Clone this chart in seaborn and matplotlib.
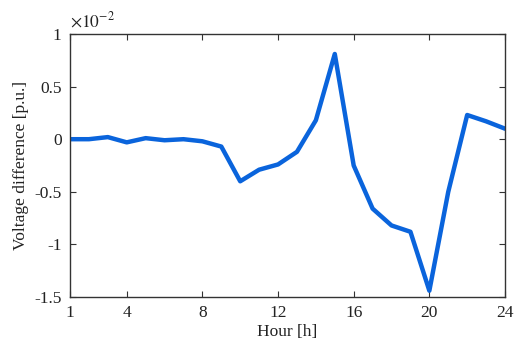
import matplotlib
matplotlib.use("Agg")
import matplotlib.pyplot as plt
import seaborn as sns
import pandas as pd

hours = list(range(1, 25))
# voltage difference in units of 1e-2 p.u.
vdiff = [0.0, 0.0, 0.02, -0.03, 0.01, -0.01, 0.0, -0.02, -0.07, -0.40,
         -0.29, -0.24, -0.12, 0.18, 0.81, -0.25, -0.66, -0.82, -0.88, -1.44,
         -0.50, 0.23, 0.17, 0.10]
xticks = [1, 4, 8, 12, 16, 20, 24]
yticks = [-1.5, -1, -0.5, 0, 0.5, 1]
ytick_labels = ["-1.5", "-1", "-0.5", "0", "0.5", "1"]

sns.set_style("ticks")
plt.rcParams["font.family"] = ["Liberation Serif", "DejaVu Serif"]
plt.rcParams["axes.unicode_minus"] = False
plt.rcParams["mathtext.fontset"] = "stix"

fig = plt.figure(figsize=(5.16, 3.47), dpi=100)
ax = fig.add_axes([70/516, 1-297/347, 435/516, 263/347])

df = pd.DataFrame({"Hour": hours, "V": vdiff})
sns.lineplot(data=df, x="Hour", y="V", ax=ax, color="#0a64dc", linewidth=3.2)

ax.set_xlim(1, 24)
ax.set_ylim(-1.5, 1)
ax.set_xticks(xticks)
ax.set_xticklabels([str(t) for t in xticks])
ax.set_yticks(yticks)
ax.set_yticklabels(ytick_labels)
ax.tick_params(direction="in", length=4, width=0.8, colors="#333333",
               labelcolor="#222222", labelsize=12.5, top=True, right=True, pad=6)
for s in ax.spines.values():
    s.set_visible(True)
    s.set_color("#333333")
    s.set_linewidth(1.0)
ax.set_xlabel("Hour [h]", fontsize=12.5, color="#222222", labelpad=2)
ax.set_ylabel("Voltage difference [p.u.]", fontsize=12.5, color="#222222", labelpad=4)
ax.text(0.0, 1.012, r"$\times10^{-2}$", transform=ax.transAxes, fontsize=12.5,
        color="#222222", ha="left", va="bottom")

fig.savefig("out.png", dpi=100)
